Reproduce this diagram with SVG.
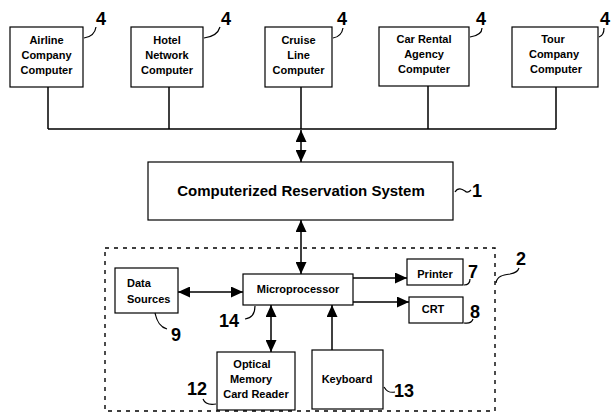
<svg xmlns="http://www.w3.org/2000/svg" width="611" height="420" viewBox="0 0 611 420">
<style>
.box{fill:#fff;stroke:#000;stroke-width:1.2}
.t{font-family:"Liberation Sans",Arial,sans-serif;font-weight:bold;font-size:11px;fill:#000;text-anchor:middle}
.n{font-family:"Liberation Sans",Arial,sans-serif;font-weight:bold;font-size:18px;fill:#000}
.ln{fill:none;stroke:#000;stroke-width:1.5}
.ld{fill:none;stroke:#000;stroke-width:1.2}
</style>
<defs>
<marker id="ah" markerUnits="userSpaceOnUse" markerWidth="12" markerHeight="11" refX="12" refY="5.5" orient="auto-start-reverse" viewBox="0 0 12 11">
<path d="M0,0 L12,5.5 L0,11 z" fill="#000"/>
</marker>
</defs>
<rect width="611" height="420" fill="#fff"/>

<g id="connectors">
<path class="ln" d="M48,87 V129 M169,87 V129 M301,87 V129 M428,86 V129 M556,87 V129 M48,129 H556"/>
<line class="ln" x1="301" y1="130" x2="301" y2="162" marker-start="url(#ah)" marker-end="url(#ah)"/>
<line class="ln" x1="301" y1="220" x2="301" y2="274" marker-start="url(#ah)" marker-end="url(#ah)"/>
<line class="ln" x1="178" y1="292" x2="243" y2="292" marker-start="url(#ah)" marker-end="url(#ah)"/>
<line class="ln" x1="353" y1="278" x2="407" y2="278" marker-end="url(#ah)"/>
<line class="ln" x1="353" y1="302" x2="409" y2="302" marker-end="url(#ah)"/>
<line class="ln" x1="271" y1="305" x2="271" y2="352" marker-start="url(#ah)" marker-end="url(#ah)"/>
<line class="ln" x1="332" y1="350" x2="332" y2="305" marker-end="url(#ah)"/>
</g>

<g id="terminal2">
<rect x="105" y="248" width="390" height="163" fill="none" stroke="#000" stroke-width="1.4" stroke-dasharray="4,5"/>
<path class="ld" d="M496,283 C497,276 503,275 510,274 C516,273 518,271 519,268"/>
<text class="n" x="516" y="265">2</text>
</g>

<g id="airline">
<rect class="box" x="10" y="27" width="73" height="60"/>
<text class="t" x="46.5" y="44">Airline</text>
<text class="t" x="46.5" y="59">Company</text>
<text class="t" x="46.5" y="74">Computer</text>
<path class="ld" d="M84,38 C91,37 95,34 96,27"/>
<text class="n" x="96" y="25">4</text>
</g>
<g id="hotel">
<rect class="box" x="131" y="27" width="72" height="60"/>
<text class="t" x="167" y="44">Hotel</text>
<text class="t" x="167" y="59">Network</text>
<text class="t" x="167" y="74">Computer</text>
<path class="ld" d="M204,38 C212,37 218,34 220,27"/>
<text class="n" x="221" y="25">4</text>
</g>
<g id="cruise">
<rect class="box" x="265" y="27" width="67" height="60"/>
<text class="t" x="298.5" y="44">Cruise</text>
<text class="t" x="298.5" y="59">Line</text>
<text class="t" x="298.5" y="74">Computer</text>
<path class="ld" d="M333,38 C339,37 342,34 343,28"/>
<text class="n" x="337" y="25">4</text>
</g>
<g id="carrental">
<rect class="box" x="379" y="27" width="90" height="59"/>
<text class="t" x="424" y="43">Car Rental</text>
<text class="t" x="424" y="58">Agency</text>
<text class="t" x="424" y="73">Computer</text>
<path class="ld" d="M470,37 C477,36 482,33 482,28"/>
<text class="n" x="476" y="25">4</text>
</g>
<g id="tour">
<rect class="box" x="512" y="27" width="86" height="60"/>
<text class="t" x="553" y="43">Tour</text>
<text class="t" x="554" y="58">Company</text>
<text class="t" x="556" y="73">Computer</text>
<path class="ld" d="M599,37 C602,36 604,33 604,28"/>
<text class="n" x="600" y="25">4</text>
</g>

<g id="crs">
<rect class="box" x="148" y="162" width="305" height="58"/>
<text class="t" x="301" y="196" style="font-size:15px">Computerized Reservation System</text>
<path class="ld" d="M455,192 C458,187 462,189 465,191 C467,193 469,192 471,190"/>
<text class="n" x="472" y="197">1</text>
</g>

<g id="datasources">
<rect class="box" x="115" y="268" width="63" height="45"/>
<text class="t" x="127" y="287" style="text-anchor:start">Data</text>
<text class="t" x="127" y="303" style="text-anchor:start">Sources</text>
<path class="ld" d="M155,313 C157,322 160,327 167,329"/>
<text class="n" x="171" y="341">9</text>
</g>

<g id="microprocessor">
<rect class="box" x="243" y="274" width="110" height="31"/>
<text class="t" x="298" y="293">Microprocessor</text>
<path class="ld" d="M255,306 C255,314 252,318 245,319"/>
<text class="n" x="219" y="327">14</text>
</g>

<g id="printer">
<rect class="box" x="407" y="259" width="56" height="26"/>
<text class="t" x="435" y="278">Printer</text>
<path class="ld" d="M464,285 C468,285 470,283 470,279"/>
<text class="n" x="468" y="278">7</text>
</g>

<g id="crt">
<rect class="box" x="409" y="297" width="54" height="26"/>
<text class="t" x="433" y="313">CRT</text>
<path class="ld" d="M464,323 C470,324 472,322 473,319"/>
<text class="n" x="470" y="318">8</text>
</g>

<g id="cardreader">
<rect class="box" x="217" y="352" width="78" height="58"/>
<text class="t" x="252" y="368">Optical</text>
<text class="t" x="251" y="383">Memory</text>
<text class="t" x="256" y="398">Card Reader</text>
<path class="ld" d="M203,399 C205,404 210,405 216,404"/>
<text class="n" x="187" y="395">12</text>
</g>

<g id="keyboard">
<rect class="box" x="312" y="350" width="71" height="59"/>
<text class="t" x="347" y="383">Keyboard</text>
<path class="ld" d="M384,387 C387,392 390,393 395,392"/>
<text class="n" x="394" y="397">13</text>
</g>
</svg>
